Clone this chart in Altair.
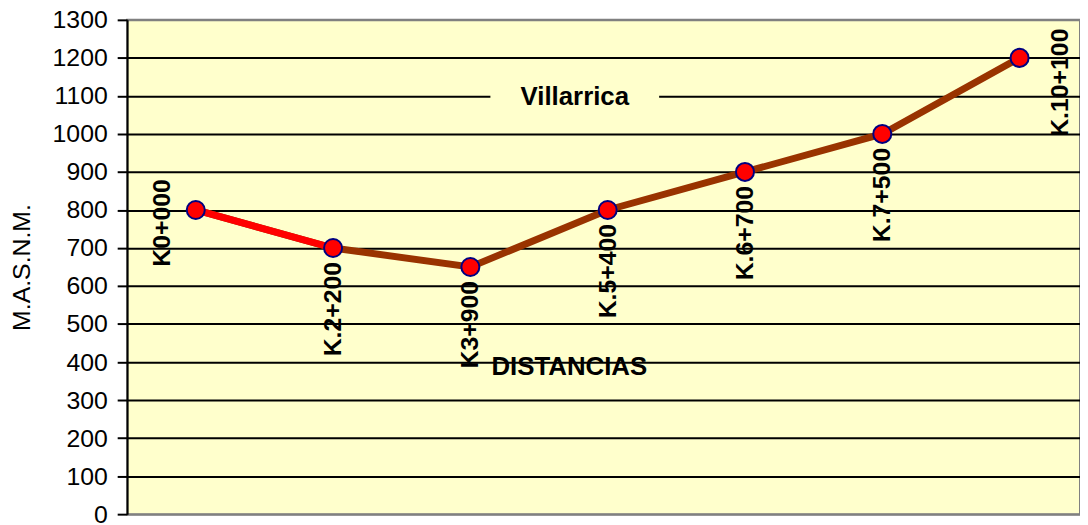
import altair as alt
import pandas as pd

# ---- data ----
estaciones = ["K0+000", "K.2+200", "K3+900", "K.5+400", "K.6+700", "K.7+500", "K.10+100"]
cotas = [800, 700, 650, 800, 900, 1000, 1200]
y_ticks = [0, 100, 200, 300, 400, 500, 600, 700, 800, 900, 1000, 1100, 1200, 1300]
titulo = "Villarrica"
titulo_x = "DISTANCIAS"
titulo_y = "M.A.S.N.M."

df = pd.DataFrame({"estacion": estaciones, "cota": cotas, "orden": list(range(len(estaciones)))})

FONT = "Liberation Sans"
BG = "#FFFFCC"
W, H = 960, 498

x_enc = alt.X(
    "orden:Q",
    scale=alt.Scale(domain=[-0.5, 6.44], nice=False, zero=False),
    axis=alt.Axis(
        title=titulo_x, labels=False, ticks=False, domain=False, grid=False,
        titleFont=FONT, titleFontSize=26, titleFontWeight="bold", titleColor="black",
        titleX=445, titleY=-149, titleAlign="center", titleBaseline="middle",
    ),
)
y_enc = alt.Y(
    "cota:Q",
    scale=alt.Scale(domain=[0, 1300], nice=False, zero=True),
    axis=alt.Axis(
        values=y_ticks, format="d", title=titulo_y,
        labelFont=FONT, labelFontSize=25, labelColor="black", labelPadding=10,
        tickSize=10, tickColor="black", tickWidth=2,
        domainColor="black", domainWidth=2,
        grid=True, gridWidth=2,
        gridColor={"condition": {"test": "datum.value === 0 || datum.value === 1300", "value": "#808080"}, "value": "black"},
        gridOpacity=1,
        titleFont=FONT, titleFontSize=25, titleFontWeight="normal", titleColor="black",
        titleAngle=270, titleX=-106, titleY=249, titleAlign="center", titleBaseline="middle",
    ),
)

base = alt.Chart(df).encode(x=x_enc, y=y_enc)

linea = base.mark_line(color="#993300", strokeWidth=7)
linea_roja = base.transform_filter(alt.datum.orden <= 1).mark_line(color="#FF0000", strokeWidth=7)
puntos = base.mark_circle(color="#FF0000", stroke="#000080", strokeWidth=2, size=330, opacity=1)

txt_props = dict(font=FONT, fontSize=25, fontWeight="bold", color="black", angle=270, baseline="middle")
etq_abajo = base.transform_filter((alt.datum.orden >= 1) & (alt.datum.orden <= 5)).mark_text(
    align="right", dx=-14, **txt_props).encode(text="estacion:N")
etq_izq = base.transform_filter(alt.datum.orden == 0).mark_text(
    align="center", dx=-13, dy=-34, **txt_props).encode(text="estacion:N")
etq_der = base.transform_filter(alt.datum.orden == 6).mark_text(
    align="center", dx=-25, dy=41, **txt_props).encode(text="estacion:N")

tdf = pd.DataFrame({"t": [titulo]})
caja = alt.Chart(tdf).mark_rect(color=BG).encode(
    x=alt.value(366), x2=alt.value(536), y=alt.value(65), y2=alt.value(91))
texto_titulo = alt.Chart(tdf).mark_text(
    font=FONT, fontSize=26, fontWeight="bold", color="black", baseline="middle", align="center"
).encode(x=alt.value(451), y=alt.value(78), text="t:N")

chart = alt.layer(linea, linea_roja, puntos, etq_abajo, etq_izq, etq_der, caja, texto_titulo).properties(
    width=W, height=H,
    autosize=alt.AutoSizeParams(type="none"),
    padding={"left": 120, "top": 10, "right": 0, "bottom": 12},
).configure(
    background="white"
).configure_view(
    fill=BG, stroke="#808080", strokeWidth=2
)

chart.save("out.html", embed_options={"renderer": "svg", "actions": False})
